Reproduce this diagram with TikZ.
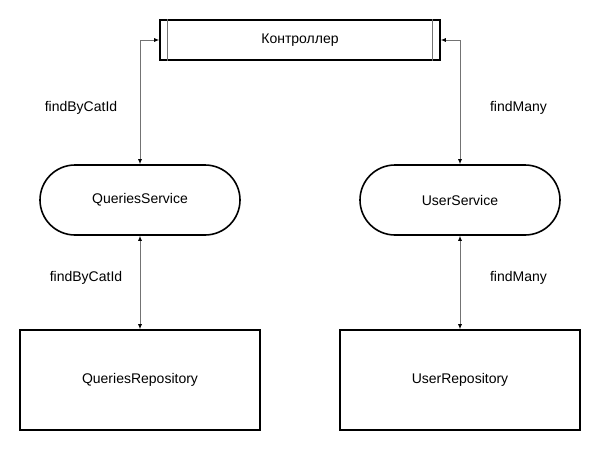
\documentclass[tikz,border=0pt]{standalone}
\usepackage{fontspec}
\setmainfont{Liberation Sans}
\usetikzlibrary{arrows.meta}

\begin{document}
\begin{tikzpicture}[x=1pt,y=-1pt,font=\fontsize{14}{16}\selectfont,
  box/.style={draw,line width=1.6pt,inner sep=0pt},
  link/.style={draw=black!55,line width=0.9pt,{Latex[length=5pt,width=4pt,black]}-{Latex[length=5pt,width=4pt,black]}}]
\useasboundingbox (0,0) rectangle (600,450);

\node[box,minimum width=280pt,minimum height=40pt](K) at (300,40) {Контроллер};
\draw[draw=black!55,line width=0.9pt] ([xshift=8pt]K.north west) -- ([xshift=8pt]K.south west);
\draw[draw=black!55,line width=0.9pt] ([xshift=-8pt]K.north east) -- ([xshift=-8pt]K.south east);

\node[box,minimum width=200pt,minimum height=70pt,rounded corners=35pt](QS) at (140,200) {QueriesService};
\node[box,minimum width=200pt,minimum height=70pt,rounded corners=35pt](US) at (460,200) {UserService};

\node[box,minimum width=240pt,minimum height=100pt](QR) at (140,380) {QueriesRepository};
\node[box,minimum width=240pt,minimum height=100pt](UR) at (460,380) {UserRepository};

\draw[link] (K.west) -| (QS.north);
\draw[link] (K.east) -| (US.north);
\draw[link] (QS.south) -- (QR.north);
\draw[link] (US.south) -- (UR.north);

\node(L1) at (81,108) {findByCatId};
\node(L2) at (518.5,108) {findMany};
\node(L3) at (86,278) {findByCatId};
\node(L4) at (518.5,278) {findMany};

\end{tikzpicture}
\end{document}
